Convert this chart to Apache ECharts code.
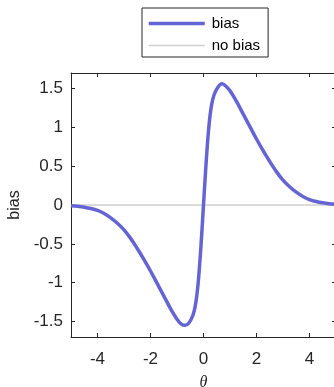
<!DOCTYPE html>
<html>
<head>
<meta charset="utf-8">
<script src="https://cdn.jsdelivr.net/npm/echarts@6/dist/echarts.min.js"></script>
<style>
  html, body { margin: 0; padding: 0; background: #fff; }
  #main { width: 334px; height: 387px; }
</style>
</head>
<body>
<div id="main"></div>
<script>
// values
const theta = [-5, -4.75, -4.5, -4.25, -4, -3.75, -3.5, -3.25, -3, -2.75, -2.5, -2.25,
    -2, -1.75, -1.5, -1.25, -1, -0.85, -0.7, -0.55, -0.4, -0.3,
    -0.2, -0.1, 0, 0.1, 0.2, 0.3, 0.4, 0.55, 0.7, 0.85,
    1, 1.25, 1.5, 1.75, 2, 2.25, 2.5, 2.75, 3, 3.25,
    3.5, 3.75, 4, 4.25, 4.5, 4.75, 5];
const bias = [-0.01, -0.017, -0.028, -0.045, -0.07, -0.11, -0.165, -0.235, -0.32, -0.43, -0.56, -0.7,
    -0.85, -1.01, -1.17, -1.33, -1.47, -1.53, -1.55, -1.52, -1.42, -1.28,
    -1.0, -0.55, 0, 0.55, 1.0, 1.28, 1.42, 1.52, 1.56, 1.53,
    1.47, 1.33, 1.17, 1.01, 0.85, 0.7, 0.56, 0.43, 0.32, 0.235,
    0.165, 0.11, 0.07, 0.045, 0.028, 0.017, 0.01];
const noBiasTheta = [-5, 5];
const noBias = [0, 0];
const xTicks = [-4, -2, 0, 2, 4];
const yTicks = [-1.5, -1, -0.5, 0, 0.5, 1, 1.5];

const myChart = echarts.init(document.getElementById('main'));
const axisColor = '#262626';
const font = 'Arial, "Liberation Sans", sans-serif';

// matlab style box: ticks on all four sides, pointing in
const boxAxis = (extra) => Object.assign({
    type: 'value',
    axisLine: { show: true, onZero: false, lineStyle: { color: axisColor, width: 1 } },
    axisTick: { show: true, inside: true, length: 4, lineStyle: { color: axisColor } },
    splitLine: { show: false }
}, extra);

const option = {
    backgroundColor: '#fff',
    animation: false,
    grid: {
        left: 71,
        right: -2,
        top: 73,
        bottom: 50,
        containLabel: false,
        outerBoundsMode: 'none'
    },
    legend: {
        orient: 'vertical',
        left: 142,
        top: 8,
        padding: [8, 8, 4, 5],
        itemWidth: 56,
        itemHeight: 14,
        itemGap: 7,
        itemStyle: { opacity: 0 },
        borderColor: axisColor,
        borderWidth: 1,
        backgroundColor: '#fff',
        textStyle: { fontSize: 15, color: '#000', fontFamily: font, padding: [0, 0, 0, 2] },
        data: [
            { name: 'bias', lineStyle: { width: 3.5 } },
            { name: 'no bias', lineStyle: { width: 1.5 } }
        ]
    },
    xAxis: [
        boxAxis({
            position: 'bottom',
            min: -5,
            max: 5,
            name: 'θ',
            nameLocation: 'middle',
            nameGap: 38,
            nameTextStyle: { fontSize: 16, fontStyle: 'italic', color: axisColor, fontFamily: '"Liberation Serif", serif' },
            axisLabel: {
                fontSize: 17,
                color: axisColor,
                fontFamily: font,
                margin: 14,
                showMinLabel: false,
                showMaxLabel: false,
                formatter: (v) => (xTicks.indexOf(v) >= 0 ? String(v) : '')
            }
        }),
        boxAxis({
            position: 'top',
            min: -5,
            max: 5,
            axisLabel: { show: false }
        })
    ],
    yAxis: [
        boxAxis({
            position: 'left',
            min: -1.7,
            max: 1.7,
            name: 'bias',
            nameLocation: 'middle',
            nameGap: 48,
            nameTextStyle: { fontSize: 16, color: axisColor, fontFamily: font },
            axisLabel: {
                fontSize: 17,
                color: axisColor,
                fontFamily: font,
                margin: 8,
                showMinLabel: false,
                showMaxLabel: false,
                formatter: (v) => (yTicks.indexOf(v) >= 0 ? String(v) : '')
            }
        }),
        boxAxis({
            position: 'right',
            min: -1.7,
            max: 1.7,
            axisLabel: { show: false }
        })
    ],
    series: [
        {
            name: 'bias',
            type: 'line',
            symbol: 'none',
            smooth: 0.35,
            z: 3,
            color: '#6464d4',
            lineStyle: { color: '#6464d4', width: 3.5 },
            data: theta.map((t, i) => [t, bias[i]])
        },
        {
            name: 'no bias',
            type: 'line',
            symbol: 'none',
            z: 1,
            color: '#cfcfcf',
            lineStyle: { color: '#cfcfcf', width: 1.5 },
            data: noBiasTheta.map((t, i) => [t, noBias[i]])
        }
    ]
};

option && myChart.setOption(option);
</script>
</body>
</html>
